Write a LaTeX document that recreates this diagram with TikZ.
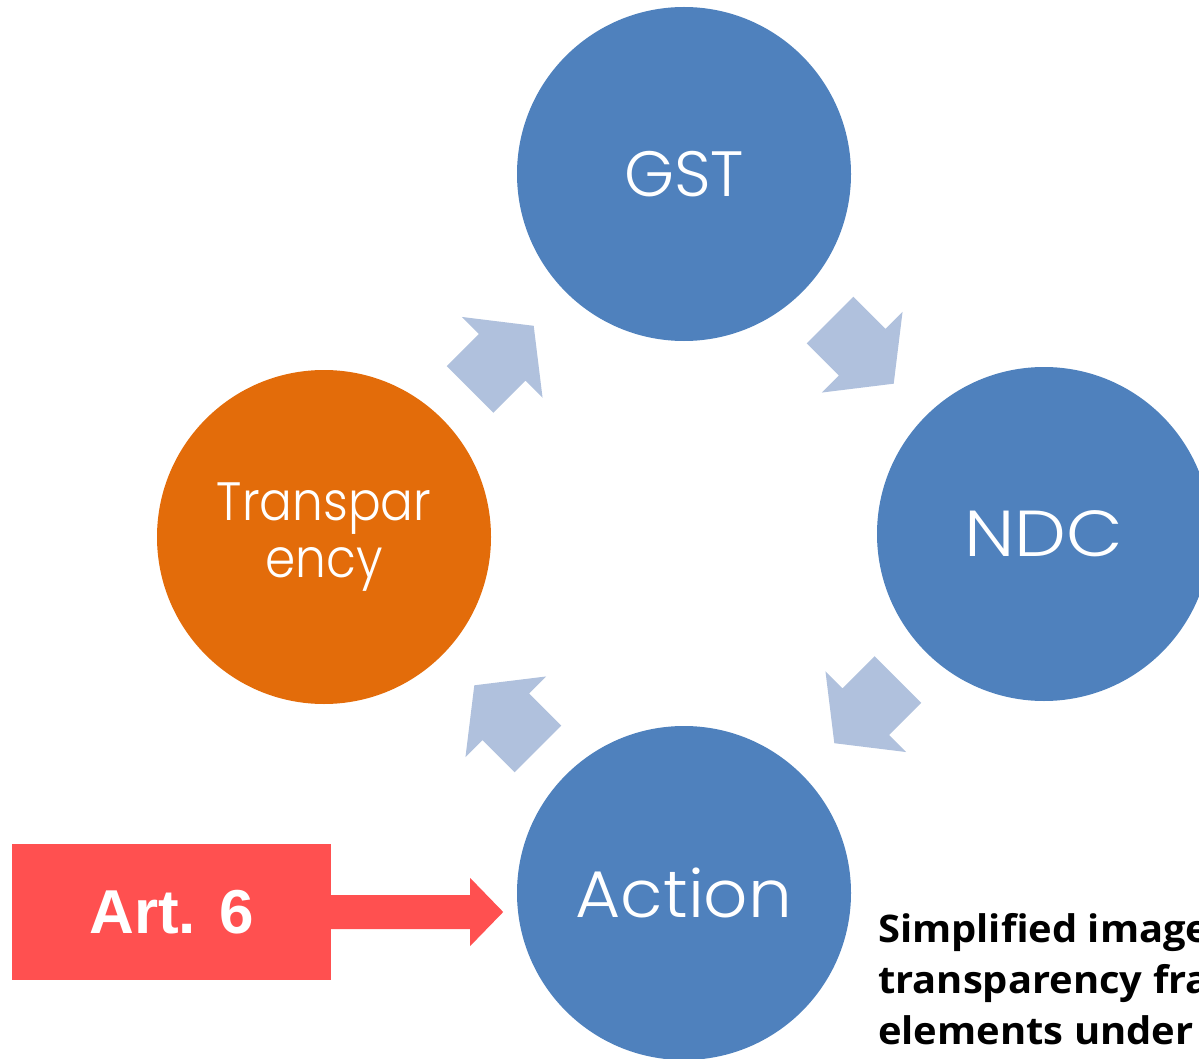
\documentclass[tikz,border=0pt]{standalone}
\usepackage{fontspec}
\usetikzlibrary{calc}
\newfontfamily\cgfont{Poppins Light}
\newfontfamily\cgwide{Poppins Light}[FakeStretch=1.13]
\newfontfamily\cgmid{Poppins Light}[FakeStretch=1.05]
\newfontfamily\cgnarrow{Poppins Light}[FakeStretch=0.9]
\newfontfamily\artfont{Liberation Sans}
\newfontfamily\notefont{Open Sans}[FakeStretch=1.05]
\definecolor{cblue}{HTML}{4F81BD}
\definecolor{corange}{HTML}{E36C0A}
\definecolor{carrow}{HTML}{B0C1DD}
\definecolor{cred}{HTML}{FF5050}
\begin{document}
\begin{tikzpicture}[x=1pt,y=-1pt,
  stage/.style={circle, fill=cblue, minimum size=334pt, inner sep=0pt, text=white,
    font=\cgfont\fontsize{64}{64}\selectfont},
  cyclearrow/.style={fill=carrow},
  notetext/.style={anchor=base west, inner sep=0pt, text=black,
    font=\notefont\bfseries\fontsize{38}{38}\selectfont}
]
\useasboundingbox (0,0) rectangle (1199,1059);
\clip (0,0) rectangle (1199,1059);
\node[stage] (gst) at (684,174) {GST};
\node[stage, font=\cgwide\fontsize{65}{65}\selectfont] (ndc) at (1044,534) {NDC};
\node[stage, font=\cgmid\fontsize{66}{66}\selectfont] (act) at (684,893) {Action};
\node[stage, fill=corange, align=center, font=\cgnarrow\fontsize{54}{57}\selectfont] (tra) at (324,537) {Transpar\\ency};
\foreach \a/\b/\ang in {gst/ndc/-45, ndc/act/-135, act/tra/135, tra/gst/45}
  \fill[cyclearrow, shift={($(\a)!0.5!(\b)$)}, rotate=\ang]
    (-48,-33) -- (-2.5,-33) -- (-2.5,-57) -- (42,0) -- (-2.5,57) -- (-2.5,33) -- (-48,33) -- cycle;
\node[fill=cred, minimum width=319pt, minimum height=136pt, inner sep=0pt, text=white,
  font=\artfont\bfseries\fontsize{62}{62}\selectfont] (art) at (171.5,912) {Art. 6};
\fill[cred] (art.east) ++(0,-17) -- ++(139,0) -- ++(0,-17) -- ++(33,34) -- ++(-33,34) -- ++(0,-17) -- ++(-139,0) -- cycle;
\node[notetext] (note1) at (878,942) {Simplified image};
\node[notetext] (note2) at (878,993) {transparency fra};
\node[notetext] (note3) at (878,1044) {elements under};
\end{tikzpicture}
\end{document}
